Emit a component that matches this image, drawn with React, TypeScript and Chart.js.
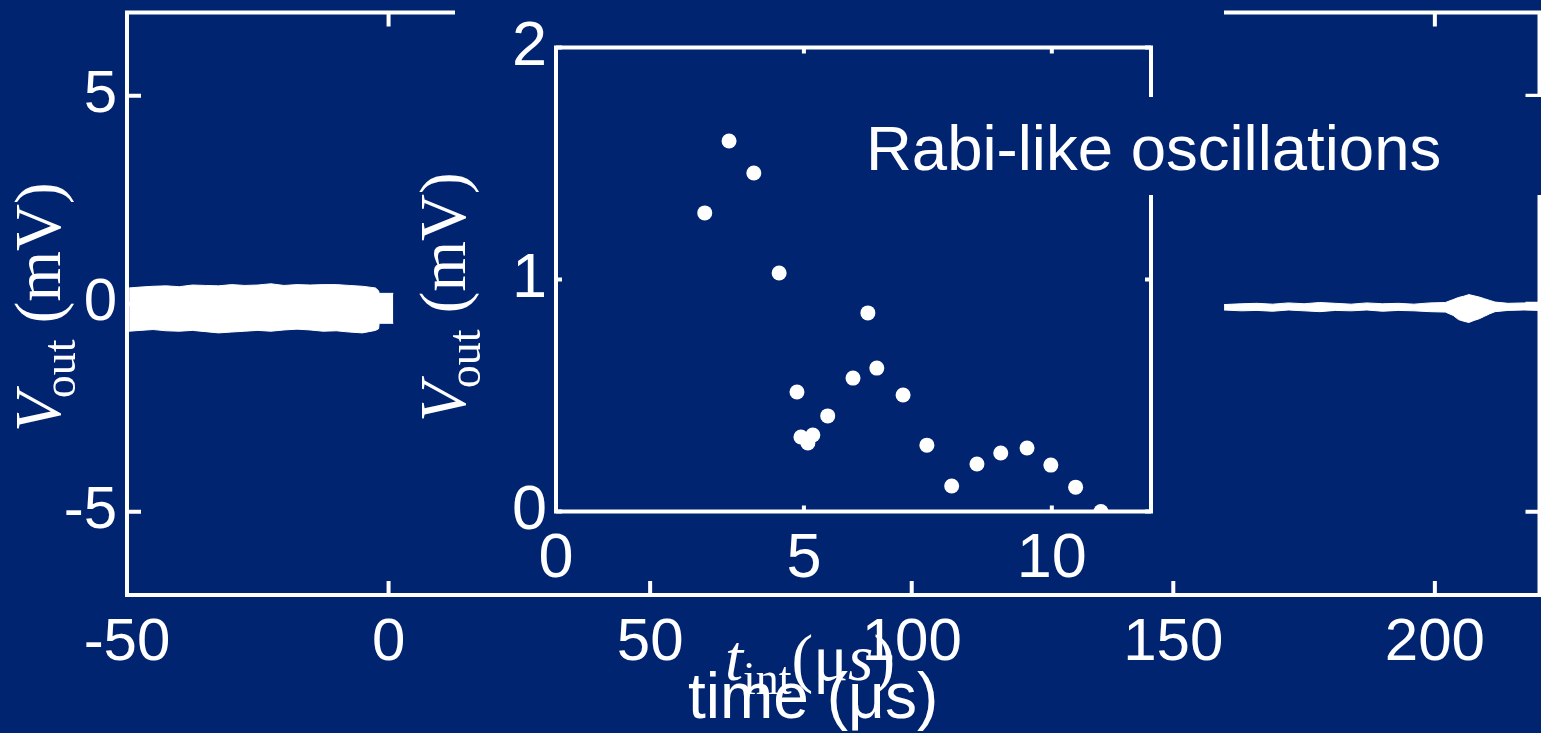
import React, { useEffect, useRef } from "react";
import { Chart, registerables } from "chart.js";

Chart.register(...registerables);

const BG = "#002470";
const WHITE = "#ffffff";
const SANS = '"Liberation Sans", Arial, sans-serif';
const SERIF = '"Liberation Serif", "Times New Roman", serif';

// ---------- outer chart (time trace) ----------
const outerXTicks = [-50, 0, 50, 100, 150, 200];
const outerYTicks = [-5, 0, 5];

// left noisy trace envelope (time in µs, Vout in mV)
const leftTime = [-49.6, -47.5, -45, -42.5, -40, -37.5, -35, -32.5, -30, -27.5, -25, -22.5, -20, -17.5, -15, -12.5, -10, -7.5, -5, -2.5, -1.9, -1.8, 0.9];
const leftUpper = [0.38, 0.4, 0.42, 0.43, 0.41, 0.45, 0.44, 0.43, 0.46, 0.44, 0.45, 0.48, 0.44, 0.46, 0.45, 0.46, 0.46, 0.44, 0.42, 0.38, 0.31, 0.25, 0.25];
const leftLower = [-0.66, -0.64, -0.62, -0.65, -0.66, -0.64, -0.67, -0.7, -0.68, -0.66, -0.64, -0.66, -0.63, -0.61, -0.63, -0.66, -0.65, -0.68, -0.7, -0.64, -0.6, -0.47, -0.47];

// right trace envelope
const rightTime = [159.7, 163, 166, 169, 172, 175, 178, 181, 184, 187, 190, 193, 196, 199, 202, 203.5, 204.5, 205.5, 206.5, 207.5, 208.5, 209.5, 210.5, 211.5, 214, 217, 220];
const rightUpper = [-0.02, 0.0, 0.01, -0.01, 0.02, 0.0, 0.03, 0.01, -0.01, 0.02, 0.0, 0.01, -0.01, 0.02, 0.03, 0.1, 0.15, 0.18, 0.22, 0.19, 0.16, 0.12, 0.08, 0.04, 0.01, 0.02, 0.01];
const rightLower = [-0.15, -0.17, -0.16, -0.18, -0.15, -0.17, -0.19, -0.16, -0.17, -0.15, -0.18, -0.16, -0.17, -0.19, -0.2, -0.28, -0.38, -0.42, -0.45, -0.4, -0.36, -0.3, -0.24, -0.19, -0.16, -0.15, -0.16];

// ---------- inset chart (Rabi-like oscillations) ----------
const insetXTicks = [0, 5, 10];
const insetYTicks = [0, 1, 2];
const tInt = [3.0, 3.49, 3.99, 4.5, 4.86, 4.94, 5.08, 5.18, 5.48, 5.99, 6.29, 6.47, 7.0, 7.48, 7.98, 8.49, 8.97, 9.5, 9.98, 10.48, 10.99];
const vOut = [1.287, 1.597, 1.459, 1.028, 0.515, 0.321, 0.295, 0.33, 0.412, 0.575, 0.856, 0.618, 0.502, 0.286, 0.11, 0.205, 0.252, 0.274, 0.2, 0.105, 0.0];

const annotation = "Rabi-like oscillations";

type Run = { text: string; font: string; dy?: number; dx?: number };

function drawRuns(ctx: CanvasRenderingContext2D, runs: Run[], x: number, y: number, angle: number) {
  ctx.save();
  ctx.translate(x, y);
  ctx.rotate(angle);
  ctx.fillStyle = WHITE;
  ctx.textBaseline = "alphabetic";
  ctx.textAlign = "left";
  let cx = 0;
  for (const r of runs) {
    ctx.font = r.font;
    cx += r.dx || 0;
    ctx.fillText(r.text, cx, r.dy || 0);
    cx += ctx.measureText(r.text).width;
  }
  ctx.restore();
}

function drawFrameAndTicks(chart: any, xTicks: number[], yTicks: number[], len: number, lw: number) {
  const { ctx, chartArea: a, scales } = chart;
  ctx.save();
  ctx.strokeStyle = WHITE;
  ctx.lineWidth = lw;
  ctx.strokeRect(a.left, a.top, a.right - a.left, a.bottom - a.top);
  ctx.beginPath();
  for (const v of xTicks) {
    const px = scales.x.getPixelForValue(v);
    ctx.moveTo(px, a.bottom);
    ctx.lineTo(px, a.bottom - len);
    ctx.moveTo(px, a.top);
    ctx.lineTo(px, a.top + len);
  }
  for (const v of yTicks) {
    const py = scales.y.getPixelForValue(v);
    ctx.moveTo(a.left, py);
    ctx.lineTo(a.left + len, py);
    ctx.moveTo(a.right, py);
    ctx.lineTo(a.right - len, py);
  }
  ctx.stroke();
  ctx.restore();
}

const vTitle = (): Run[] => [
  { text: "V", font: `italic 65px ${SERIF}` },
  { text: "out", font: `46px ${SERIF}`, dy: 15, dx: -6 },
  { text: " (mV)", font: `65px ${SERIF}` },
];

const noPad = (s: any) => {
  s.paddingTop = 0;
  s.paddingBottom = 0;
  s.paddingLeft = 0;
  s.paddingRight = 0;
};

export default function App() {
  const outerRef = useRef<HTMLCanvasElement>(null);
  const insetRef = useRef<HTMLCanvasElement>(null);

  useEffect(() => {
    document.body.style.margin = "0";

    const outerPlugin = {
      id: "outerDecor",
      beforeDraw(chart: any) {
        const { ctx, width, height } = chart;
        ctx.save();
        ctx.fillStyle = BG;
        ctx.fillRect(0, 0, width, height);
        ctx.restore();
      },
      beforeDatasetsDraw(chart: any) {
        drawFrameAndTicks(chart, outerXTicks, outerYTicks, 14, 4);
      },
      afterDraw(chart: any) {
        const ctx = chart.ctx;
        drawRuns(ctx, vTitle(), 60, 432, -Math.PI / 2);
        drawRuns(ctx, [{ text: "time (\u03bcs)", font: `64px ${SANS}` }], 688, 718, 0);
      },
    };

    const mk = (t: number[], v: number[]) => t.map((x, i) => ({ x, y: v[i] }));
    const lineDs = (data: any[], fill: any) => ({
      data,
      fill,
      borderColor: WHITE,
      backgroundColor: WHITE,
      borderWidth: 1,
      pointRadius: 0,
      tension: 0,
    });

    const outer = new Chart(outerRef.current as HTMLCanvasElement, {
      type: "line",
      data: {
        datasets: [
          lineDs(mk(leftTime, leftUpper), false),
          lineDs(mk(leftTime, leftLower), "-1"),
          lineDs(mk(rightTime, rightUpper), false),
          lineDs(mk(rightTime, rightLower), "-1"),
        ] as any,
      },
      options: {
        responsive: false,
        animation: false,
        devicePixelRatio: 1,
        events: [],
        layout: { autoPadding: false, padding: { left: 0, top: 12.5, right: 1.5, bottom: 0 } },
        plugins: { legend: { display: false }, tooltip: { enabled: false } },
        scales: {
          x: {
            type: "linear",
            min: -50,
            max: 220,
            afterBuildTicks: (s: any) => {
              s.ticks = outerXTicks.map((value) => ({ value }));
            },
            afterFit: (s: any) => {
              s.height = 138;
              noPad(s);
            },
            grid: { display: false, drawTicks: false },
            border: { display: false },
            ticks: {
              color: WHITE,
              font: { family: SANS, size: 60 },
              padding: 12,
              autoSkip: false,
              maxRotation: 0,
              callback: (v: any) => String(v),
            },
          },
          y: {
            type: "linear",
            min: -7,
            max: 7,
            afterBuildTicks: (s: any) => {
              s.ticks = outerYTicks.map((value) => ({ value }));
            },
            afterFit: (s: any) => {
              s.width = 127;
              noPad(s);
            },
            grid: { display: false, drawTicks: false },
            border: { display: false },
            ticks: {
              color: WHITE,
              font: { family: SANS, size: 60 },
              padding: 10,
              autoSkip: false,
              callback: (v: any) => String(v),
            },
          },
        },
      } as any,
      plugins: [outerPlugin],
    });

    const insetPlugin = {
      id: "insetDecor",
      beforeDraw(chart: any) {
        const ctx = chart.ctx;
        ctx.save();
        ctx.fillStyle = BG;
        ctx.fillRect(455, 0, 1224 - 455, 580);
        ctx.restore();
      },
      beforeDatasetsDraw(chart: any) {
        drawFrameAndTicks(chart, insetXTicks, insetYTicks, 6, 4);
      },
      afterDraw(chart: any) {
        const ctx = chart.ctx;
        drawRuns(ctx, vTitle(), 465, 422, -Math.PI / 2);
        drawRuns(
          ctx,
          [
            { text: "t", font: `italic 65px ${SERIF}` },
            { text: "int", font: `46px ${SERIF}`, dy: 14 },
            { text: "(", font: `65px ${SERIF}` },
            { text: "\u03bc", font: `65px ${SERIF}` },
            { text: "s", font: `italic 65px ${SERIF}` },
            { text: ")", font: `65px ${SERIF}` },
          ],
          725,
          680,
          0
        );
        ctx.save();
        ctx.fillStyle = BG;
        ctx.fillRect(850, 97, 1541 - 850, 98);
        ctx.restore();
        drawRuns(ctx, [{ text: annotation, font: `63.5px ${SANS}` }], 866, 170, 0);
      },
    };

    const inset = new Chart(insetRef.current as HTMLCanvasElement, {
      type: "scatter",
      data: {
        datasets: [
          {
            data: mk(tInt, vOut),
            pointRadius: 7.5,
            pointBackgroundColor: WHITE,
            pointBorderWidth: 0,
            showLine: false,
          },
        ] as any,
      },
      options: {
        responsive: false,
        animation: false,
        devicePixelRatio: 1,
        events: [],
        layout: { autoPadding: false, padding: { left: 496, top: 47.5, right: 390, bottom: 146.5 } },
        plugins: { legend: { display: false }, tooltip: { enabled: false } },
        scales: {
          x: {
            type: "linear",
            min: 0,
            max: 12,
            afterBuildTicks: (s: any) => {
              s.ticks = insetXTicks.map((value) => ({ value }));
            },
            afterFit: (s: any) => {
              s.height = 75;
              noPad(s);
            },
            grid: { display: false, drawTicks: false },
            border: { display: false },
            ticks: {
              color: WHITE,
              font: { family: SANS, size: 63 },
              padding: 10,
              autoSkip: false,
              maxRotation: 0,
              callback: (v: any) => String(v),
            },
          },
          y: {
            type: "linear",
            min: 0,
            max: 2,
            afterBuildTicks: (s: any) => {
              s.ticks = insetYTicks.map((value) => ({ value }));
            },
            afterFit: (s: any) => {
              s.width = 60;
              noPad(s);
            },
            grid: { display: false, drawTicks: false },
            border: { display: false },
            ticks: {
              color: WHITE,
              font: { family: SANS, size: 63 },
              padding: 9,
              autoSkip: false,
              callback: (v: any) => String(v),
            },
          },
        },
      } as any,
      plugins: [insetPlugin],
    });

    return () => {
      outer.destroy();
      inset.destroy();
    };
  }, []);

  const canvasStyle: React.CSSProperties = {
    position: "absolute",
    left: 0,
    top: 0,
    width: 1541,
    height: 733,
  };

  return (
    <div
      style={{
        position: "fixed",
        left: 0,
        top: 0,
        width: 1541,
        height: 733,
        background: BG,
        overflow: "hidden",
      }}
    >
      <canvas ref={outerRef} width={1541} height={733} style={canvasStyle} />
      <canvas ref={insetRef} width={1541} height={733} style={canvasStyle} />
    </div>
  );
}
